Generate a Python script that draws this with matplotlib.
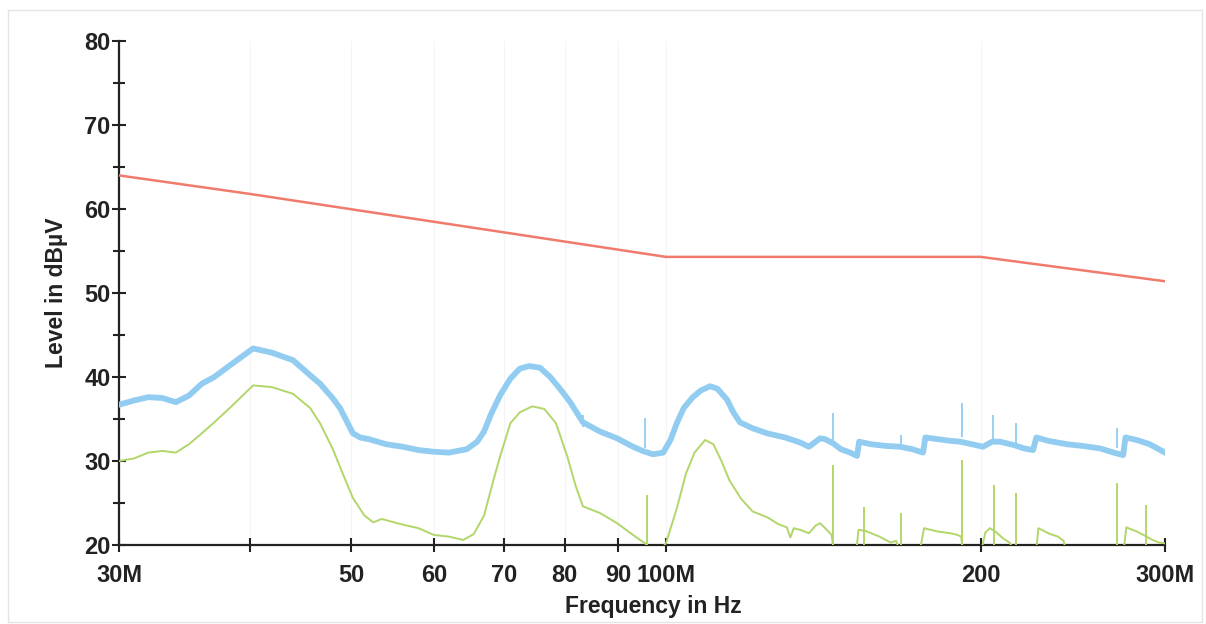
import matplotlib
matplotlib.use("Agg")
import matplotlib.pyplot as plt
from matplotlib.patches import Rectangle
from matplotlib.ticker import NullLocator, FixedLocator

plt.rcParams['font.family'] = ['Liberation Sans', 'DejaVu Sans']

# limit line (MHz, dBuV)
limit_f = [30, 40, 100, 200, 300]
limit_v = [64.0, 61.8, 54.3, 54.3, 51.4]

# peak trace (blue), MHz / dBuV
peak_f = [30, 31, 32, 33, 34, 35, 36, 37, 38.5, 40.3, 42, 44, 45.7, 46.7, 48, 48.8,
          50.2, 51, 52, 54, 56, 58, 60, 62, 64.5, 66, 67, 68, 69.4, 71, 72.5, 74,
          75.8, 77.5, 79.2, 81, 83.3, 86.5, 89.8, 93, 95, 97.2, 99.4, 101, 102.5, 104,
          106.1, 108, 110.2, 112, 114.4, 116, 117.7, 121, 124.9, 130, 134.4, 137, 140.4,
          142, 144.5, 147, 150, 152.3, 153, 157, 162, 167.4, 172, 176.1, 177, 182, 187,
          191.1, 196, 201, 205, 208.6, 215, 220, 224.4, 226, 232, 241.7, 250, 260, 268,
          273.6, 275, 282, 290, 298, 300]
peak_v = [36.7, 37.2, 37.6, 37.5, 37.0, 37.8, 39.2, 40.0, 41.6, 43.4, 42.9, 42.0, 40.2,
          39.2, 37.5, 36.3, 33.3, 32.8, 32.6, 32.0, 31.7, 31.3, 31.1, 31.0, 31.4, 32.3,
          33.5, 35.5, 37.8, 39.8, 41.0, 41.3, 41.1, 40.0, 38.6, 37.0, 34.6, 33.5, 32.7,
          31.7, 31.2, 30.8, 31.0, 32.5, 34.6, 36.3, 37.6, 38.4, 38.9, 38.6, 37.3, 35.8,
          34.6, 33.9, 33.3, 32.8, 32.2, 31.7, 32.7, 32.6, 32.1, 31.4, 31.0, 30.6, 32.3,
          32.0, 31.8, 31.7, 31.4, 31.0, 32.8, 32.6, 32.4, 32.3, 32.0, 31.7, 32.3, 32.3,
          31.9, 31.5, 31.3, 32.8, 32.4, 32.0, 31.8, 31.5, 31.0, 30.7, 32.8, 32.5, 32.0,
          31.2, 31.0]
peak_spike_f = [83.3, 95.5, 144.5, 167.6, 191.9, 205.4, 216, 270]
peak_spike_lo = [34.0, 31.5, 32.5, 32.0, 32.8, 32.5, 32.0, 31.5]
peak_spike_hi = [35.5, 35.1, 35.7, 33.1, 36.9, 35.5, 34.5, 33.9]

# average trace (green)
avg_f = [30, 31, 32, 33, 34, 35, 36, 37, 38.5, 40.3, 42, 44, 45.7, 46.7, 48, 48.8, 50.2,
         51.5, 52.5, 53.5, 55.7, 58, 60, 62, 64, 65.5, 67, 68.5, 69.4, 71, 72.5, 74.5,
         76.5, 78.5, 80.5, 82, 83.3, 86.5, 89.8, 93, 95.5, 96.5, 99, 100, 102.5, 104.5,
         106.5, 109, 111, 113, 115, 118, 121, 125, 128, 130.5, 131.5, 132.5, 134.4, 137,
         139, 140.4, 142, 144, 144.8, 152, 152.8, 155, 160, 164, 166, 167, 175, 176.5,
         182, 187, 190, 191.5, 192.5, 200, 202, 204, 207, 210, 213, 215, 226, 227, 233,
         237, 240, 241, 274, 275.5, 282, 288, 292, 296, 300]
avg_v = [30.0, 30.3, 31.0, 31.2, 31.0, 32.0, 33.3, 34.6, 36.6, 39.0, 38.8, 38.0, 36.3,
         34.5, 31.5, 29.3, 25.6, 23.5, 22.7, 23.1, 22.5, 22.0, 21.2, 21.0, 20.6, 21.3,
         23.5, 28.0, 30.5, 34.5, 35.8, 36.5, 36.2, 34.5, 30.5, 27.0, 24.6, 23.8, 22.6,
         21.2, 20.2, 19.5, 19.5, 20.2, 24.5, 28.5, 31.0, 32.5, 32.0, 30.0, 27.7, 25.5,
         24.0, 23.3, 22.5, 22.1, 20.9, 22.0, 21.8, 21.4, 22.3, 22.6, 22.0, 21.2, 19.0,
         19.0, 21.8, 21.7, 21.0, 20.3, 20.5, 19.5, 19.5, 22.0, 21.6, 21.4, 21.2, 21.0,
         19.0, 19.0, 21.5, 22.0, 21.5, 20.8, 20.3, 19.5, 19.5, 22.0, 21.3, 21.0, 20.5,
         19.5, 19.5, 22.1, 21.6, 21.0, 20.6, 20.3, 20.2]
avg_spike_f = [96, 144.5, 154.5, 167.6, 192, 205.7, 216, 270, 288]
avg_spike_hi = [26.0, 29.5, 24.5, 23.8, 30.1, 27.1, 26.2, 27.4, 24.8]

xtick_vals = [30, 40, 50, 60, 70, 80, 90, 100, 200, 300]
xtick_labels = ['30M', '', '50', '60', '70', '80', '90', '100M', '200', '300M']

fig = plt.figure(figsize=(12.06, 6.24), dpi=100)
ax = fig.add_axes([119 / 1206, 1 - 545 / 624, 1046 / 1206, 504 / 624])

red = '#f07a6c'
blue = '#92cdf1'
green = '#b2d66a'

ax.plot(peak_f, peak_v, color=blue, lw=4.2, solid_joinstyle='round', zorder=3)
ax.vlines(peak_spike_f, peak_spike_lo, peak_spike_hi, color=blue, lw=1.3, zorder=3)
ax.plot(avg_f, avg_v, color=green, lw=1.4, zorder=4)
ax.vlines(avg_spike_f, 20, avg_spike_hi, color=green, lw=1.4, zorder=4)
ax.plot(limit_f, limit_v, color=red, lw=1.8, zorder=5)

ax.set_xscale('log')
ax.set_xlim(30, 300)
ax.set_ylim(20, 80)
ax.xaxis.set_major_locator(FixedLocator(xtick_vals))
ax.xaxis.set_minor_locator(NullLocator())
ax.set_xticklabels(xtick_labels)
ax.set_yticks(range(20, 81, 10))
ax.yaxis.set_minor_locator(FixedLocator(range(25, 80, 10)))

for s in ['top', 'right']:
    ax.spines[s].set_visible(False)
for s in ['left', 'bottom']:
    ax.spines[s].set_linewidth(1.6)
    ax.spines[s].set_color('#222222')

ax.tick_params(axis='both', which='both', direction='inout', width=1.5, color='#222222')
ax.tick_params(axis='both', which='major', length=10, labelsize=17)
ax.tick_params(axis='y', which='minor', length=9)
ax.tick_params(axis='x', which='major', pad=9)
ax.tick_params(axis='y', which='major', pad=1)
for lab in ax.get_xticklabels() + ax.get_yticklabels():
    lab.set_fontweight('bold')
    lab.set_color('#222222')

ax.grid(True, axis='x', which='major', color='#f4f4f4', lw=0.8, zorder=0)

ax.set_ylabel('Level in dBµV', fontsize=16.5, fontweight='bold', color='#222222', labelpad=12)
fig.text(653 / 1206, 1 - 607 / 624, 'Frequency in Hz', fontsize=16.5, fontweight='bold',
         color='#222222', ha='center', va='center')

fig.patches.append(Rectangle((8 / 1206, 2 / 624), 1194 / 1206, 612 / 624, transform=fig.transFigure,
                             fill=False, edgecolor='#e4e4e4', lw=1.0))

fig.savefig('out.png', dpi=100)
